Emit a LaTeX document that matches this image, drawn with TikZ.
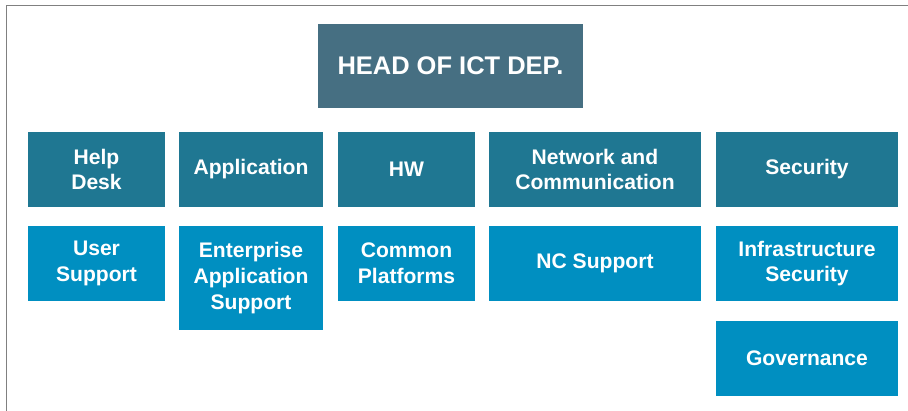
\documentclass[tikz,border=0pt]{standalone}
\usepackage{fontspec}
\setmainfont{Liberation Sans}
\usepackage{tikz}
\usetikzlibrary{positioning}

\definecolor{headblue}{RGB}{70, 111, 130}
\definecolor{deptblue}{RGB}{31, 119, 146}
\definecolor{unitblue}{RGB}{0, 143, 193}
\definecolor{frame}{RGB}{128, 128, 128}

\begin{document}
\begin{tikzpicture}[x=0.02cm, y=-0.02cm,
        every node/.style={font=\bfseries\fontsize{12}{14.6}\selectfont, text=white, align=center, inner sep=0pt},
        head/.style={fill=headblue, font=\bfseries\fontsize{14.5}{17}\selectfont, minimum width=5.3cm, minimum height=1.68cm},
        dept/.style={fill=deptblue, minimum width=#1, minimum height=1.5cm},
        unit/.style={fill=unitblue, minimum width=#1, minimum height=1.5cm}
    ]
    \useasboundingbox (0,0) rectangle (908,411);

    % frame on the left and top
    \draw[frame, line width=1.1pt] (6.5,411) |- (908,5.5);

    % Head
    \node[head] (head) at (450.5, 66) {HEAD OF ICT DEP.};

    % Departments
    \node[dept=2.74cm] (help) at (96.5, 169.5) {Help\\Desk};
    \node[dept=2.88cm] (app) at (251, 169.5) {Application};
    \node[dept=2.74cm] (hw) at (406.5, 169.5) {HW};
    \node[dept=4.24cm] (net) at (595, 169.5) {Network and\\Communication};
    \node[dept=3.64cm] (sec) at (807, 169.5) {Security};

    % Units
    \node[unit=2.74cm] (user) at (96.5, 263.5) {User\\Support};
    \node[unit=2.88cm, minimum height=2.08cm] (eas) at (251, 278) {Enterprise\\Application\\Support};
    \node[unit=2.74cm] (cp) at (406.5, 263.5) {Common\\Platforms};
    \node[unit=4.24cm] (ncs) at (595, 263.5) {NC Support};
    \node[unit=3.64cm] (infra) at (807, 263.5) {Infrastructure\\Security};
    \node[unit=3.64cm] (gov) at (807, 358.5) {Governance};
\end{tikzpicture}
\end{document}
